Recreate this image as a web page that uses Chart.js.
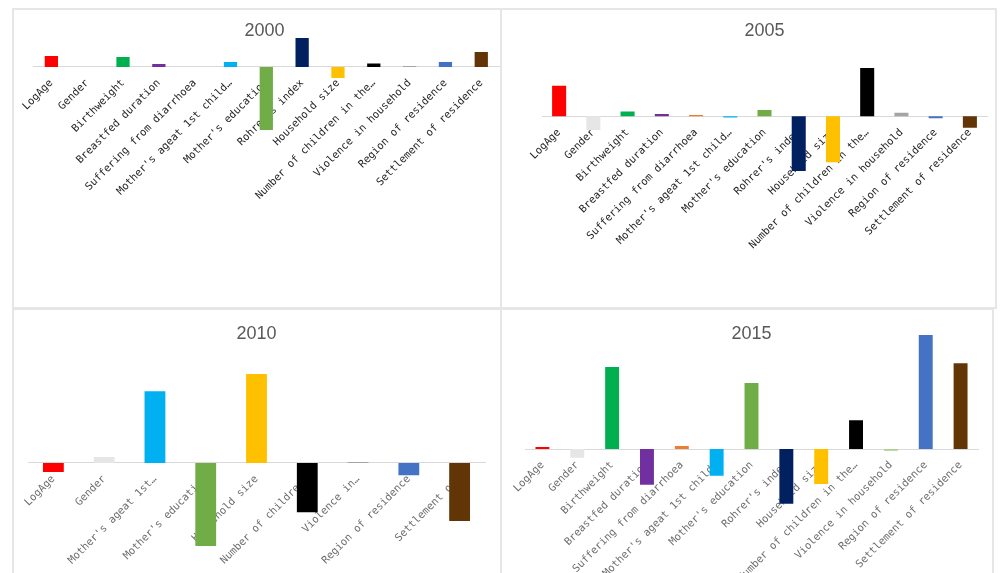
<!DOCTYPE html>
<html>
<head>
<meta charset="utf-8">
<script src="https://cdn.jsdelivr.net/npm/chart.js@4.4.1/dist/chart.umd.min.js"></script>
<style>
  html, body { margin: 0; padding: 0; background: #fff; overflow: hidden; }
  body { width: 1000px; height: 573px; position: relative; }
  .panel { position: absolute; box-sizing: border-box; border: 2px solid #e6e6e6; background: #fff; }
  .panel canvas { display: block; }
</style>
</head>
<body>
<div class="panel" style="left:12px;top:8px;width:490px;height:301px"><canvas id="c2000" width="486" height="297"></canvas></div>
<div class="panel" style="left:500px;top:8px;width:497px;height:301px"><canvas id="c2005" width="493" height="297"></canvas></div>
<div class="panel" style="left:12px;top:308px;width:490px;height:280px"><canvas id="c2010" width="486" height="276"></canvas></div>
<div class="panel" style="left:500px;top:308px;width:494px;height:280px"><canvas id="c2015" width="490" height="276"></canvas></div>
<script>
// variables shown in 2000, 2005 and 2015
const labelsFull = [
    "LogAge", "Gender", "Birthweight", "Breastfed duration", "Suffering from diarrhoea",
    "Mother's ageat 1st child\u2026", "Mother's education", "Rohrer's index", "Household size",
    "Number of children in the\u2026", "Violence in household", "Region of residence",
    "Settlement of residence"
]
// the 2010 model has fewer variables
const labels2010 = [
    "LogAge", "Gender", "Mother's ageat 1st\u2026", "Mother's education", "Household size",
    "Number of children\u2026", "Violence in\u2026", "Region of residence", "Settlement of\u2026"
]

const values2000 = [0.11, 0, 0.10, 0.03, 0, 0.05, -0.63, 0.29, -0.11, 0.035, 0.01, 0.05, 0.15]
const values2005 = [0.306, -0.137, 0.047, 0.023, 0.012, -0.013, 0.063, -0.547, -0.46, 0.483, 0.036, -0.02, -0.114]
const values2010 = [-0.09, 0.06, 0.717, -0.83, 0.89, -0.493, 0.01, -0.123, -0.58]
const values2015 = [0.02, -0.087, 0.82, -0.357, 0.03, -0.267, 0.66, -0.547, -0.35, 0.287, -0.017, 1.14, 0.857]

const colorsFull = [
    "#ff0000", "#e7e6e6", "#00b050", "#7030a0", "#ed7d31", "#00b0f0", "#70ad47",
    "#002060", "#ffc000", "#000000", "#a5a5a5", "#4472c4", "#623506"
]
const colors2010 = ["#ff0000", "#e7e6e6", "#00b0f0", "#70ad47", "#ffc000", "#000000", "#a5a5a5", "#4472c4", "#623506"]
const colors2015 = colorsFull.map((c, i) => i === 10 ? "#a9d18e" : c)

const createPanelChart = (id, title, labels, values, colors, opts) => {
    const ctx = document.getElementById(id).getContext("2d")

    const config = {
        type: "bar",
        data: {
            labels: labels,
            datasets: [{
                data: values,
                backgroundColor: colors,
                borderWidth: 0,
                categoryPercentage: 1,
                barPercentage: opts.barPct
            }]
        },
        options: {
            responsive: false,
            animation: false,
            layout: { autoPadding: false, padding: { left: opts.padLeft, right: opts.padRight, top: 0, bottom: 0 } },
            plugins: {
                legend: { display: false },
                tooltip: { enabled: false },
                title: {
                    display: true,
                    text: title,
                    color: "#595959",
                    font: { family: "Liberation Sans", size: 18, weight: "normal", lineHeight: 1.2 },
                    padding: { top: opts.titleTop, bottom: opts.titleBottom }
                }
            },
            scales: {
                x: {
                    position: { y: 0 },
                    offset: true,
                    grid: { display: false, drawTicks: false },
                    border: { display: true, color: "#d9d9d9", width: 1 },
                    ticks: {
                        autoSkip: false,
                        minRotation: 45,
                        maxRotation: 45,
                        padding: 10,
                        color: opts.tickColor,
                        font: { family: "DejaVu Sans Mono", size: 10.5 }
                    },
                    afterFit: (scale) => { scale.height = 0 }
                },
                y: {
                    display: false,
                    min: opts.yMin,
                    max: opts.yMax
                }
            }
        }
    }

    return new Chart(ctx, config)
}

createPanelChart("c2000", "2000", labelsFull, values2000, colorsFull,
    { barPct: 0.37, padLeft: 15, padRight: 0, titleTop: 10, titleBottom: -5, yMin: -2.40, yMax: 0.304, tickColor: "#262626" })
createPanelChart("c2005", "2005", labelsFull, values2005, colorsFull,
    { barPct: 0.41, padLeft: 40, padRight: 8, titleTop: 10, titleBottom: -5, yMin: -1.907, yMax: 0.797, tickColor: "#262626" })
createPanelChart("c2010", "2010", labels2010, values2010, colors2010,
    { barPct: 0.41, padLeft: 14, padRight: 15, titleTop: 13, titleBottom: 0, yMin: -1.23, yMax: 1.184, tickColor: "#6e6e6e" })
createPanelChart("c2015", "2015", labelsFull, values2015, colors2015,
    { barPct: 0.40, padLeft: 23, padRight: 14, titleTop: 13, titleBottom: -10, yMin: -1.37, yMax: 1.144, tickColor: "#6e6e6e" })
</script>
</body>
</html>
